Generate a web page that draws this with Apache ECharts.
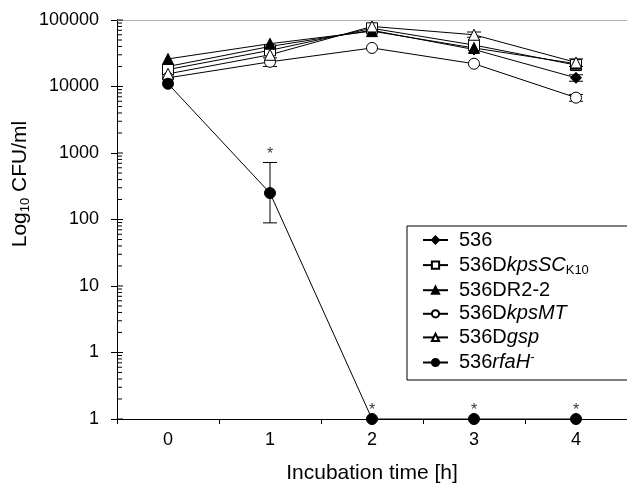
<!DOCTYPE html>
<html>
<head>
<meta charset="utf-8">
<script src="https://cdn.jsdelivr.net/npm/echarts@6/dist/echarts.min.js"></script>
<style>html,body{margin:0;padding:0;background:#fff}#c{width:627px;height:489px}</style>
</head>
<body>
<div id="c"></div>
<script>
// ---- data ----
var times = ['0', '1', '2', '3', '4'];
var s536   = [20000, 40000, 70000, 36000, 13500];
var sKpsSC = [18000, 35000, 75000, 42000, 21000];
var sDR22  = [26000, 44000, 68000, 38000, 22000];
var sKpsMT = [13500, 23500, 38000, 22000, 6800];
var sGsp   = [15500, 30000, 80000, 60000, 23000];
var sRfaH  = [11000, 250, 0.1, 0.1, 0.1];
// error bars: [timeIndex, low, high]
var errRfaH  = [[1, 89, 720]];
var errKpsMT = [[1, 20000, 27000], [4, 6000, 7600]];
var err536   = [[4, 12000, 15000]];
var errGsp   = [[3, 55000, 66000], [4, 20000, 26000]];
// significance stars: [timeIndex, value]
var stars = [[1, 720], [2, 0.1], [3, 0.1], [4, 0.1]];
// y ticks
var tickValues = [0.1, 1, 10, 100, 1000, 10000, 100000];
var tickLabels = ['1', '1', '10', '100', '1000', '10000', '100000'];
var minorMultipliers = [2, 3, 4, 5, 6, 7, 8, 9];
var decadeStarts = [0.1, 1, 10, 100, 1000, 10000];

var FONT = 'Liberation Sans, Arial, sans-serif';

var minorTicks = [];
decadeStarts.forEach(function (d) {
  minorTicks.push([0, d, 1]);
  minorMultipliers.forEach(function (m) { minorTicks.push([0, d * m, 0]); });
});
minorTicks.push([0, 100000, 1]);

function errItem(params, api) {
  var x = api.value(0), lo = api.value(1), hi = api.value(2);
  var p1 = api.coord([x, lo]), p2 = api.coord([x, hi]);
  var w = 7;
  var st = {stroke: '#000', lineWidth: 1};
  return {type: 'group', children: [
    {type: 'line', shape: {x1: p1[0], y1: p1[1], x2: p2[0], y2: p2[1]}, style: st},
    {type: 'line', shape: {x1: p1[0] - w, y1: p1[1], x2: p1[0] + w, y2: p1[1]}, style: st},
    {type: 'line', shape: {x1: p2[0] - w, y1: p2[1], x2: p2[0] + w, y2: p2[1]}, style: st}
  ]};
}

function lineSeries(name, data, symbol, filled) {
  return {
    name: name, type: 'line', data: data, symbol: symbol, symbolSize: 11,
    clip: false, z: 5,
    lineStyle: {color: '#000', width: 1},
    itemStyle: {color: filled ? '#000' : '#fff', borderColor: '#000', borderWidth: 1},
    emphasis: {disabled: true}
  };
}
function errSeries(data) {
  return {type: 'custom', data: data, renderItem: errItem, z: 4, silent: true};
}

var nameMap = {
  '536': '{n|536}',
  '536DkpsSC': '{n|536D}{i|kpsSC}{s|K10}',
  '536DR2-2': '{n|536DR2-2}',
  '536DkpsMT': '{n|536D}{i|kpsMT}',
  '536Dgsp': '{n|536D}{i|gsp}',
  '536rfaH': '{n|536}{i|rfaH}{u|-}'
};

var chart = echarts.init(document.getElementById('c'), null, {renderer: 'canvas'});
chart.setOption({
  animation: false,
  backgroundColor: '#fff',
  grid: {left: 117, right: -10, top: 20, bottom: 68, containLabel: false},
  xAxis: [{
    type: 'category', data: times, boundaryGap: true,
    axisLine: {lineStyle: {color: '#000', width: 1}},
    axisTick: {show: true, inside: false, length: 5, lineStyle: {color: '#000'}},
    axisLabel: {color: '#000', fontSize: 18, fontFamily: FONT, margin: 12},
    name: 'Incubation time [h]', nameLocation: 'middle', nameGap: 44,
    nameTextStyle: {color: '#000', fontSize: 21, fontFamily: FONT},
    splitLine: {show: false}
  }, {
    type: 'category', data: times, position: 'top',
    axisLine: {lineStyle: {color: '#b0b0b0', width: 1}},
    axisTick: {show: false}, axisLabel: {show: false}, splitLine: {show: false}
  }],
  yAxis: {
    type: 'log', logBase: 10, min: 0.1, max: 100000, interval: 1,
    axisLine: {show: true, lineStyle: {color: '#000', width: 1}},
    axisTick: {show: true, inside: false, length: 6, lineStyle: {color: '#000'}},
    axisLabel: {color: '#000', fontSize: 18, fontFamily: FONT, margin: 18,
      formatter: function (v) {
        for (var i = 0; i < tickValues.length; i++) {
          if (Math.abs(Math.log10(tickValues[i]) - Math.log10(v)) < 1e-6) return tickLabels[i];
        }
        return '';
      }},
    splitLine: {show: false}
  },
  legend: {
    orient: 'vertical', left: 407, top: 226,
    data: ['536', '536DkpsSC', '536DR2-2', '536DkpsMT', '536Dgsp', '536rfaH'],
    itemWidth: 25, itemHeight: 9, itemGap: 3.6,
    padding: [4, 40, 6, 15],
    borderColor: '#000', borderWidth: 1, backgroundColor: '#fff',
    formatter: function (n) { return nameMap[n]; },
    textStyle: {
      color: '#000', fontSize: 20, fontFamily: FONT, lineHeight: 20, padding: [0, 0, 0, 6],
      rich: {
        n: {fontSize: 20, fontFamily: FONT, color: '#000', lineHeight: 20},
        i: {fontSize: 20, fontFamily: FONT, fontStyle: 'italic', color: '#000', lineHeight: 20},
        s: {fontSize: 13, fontFamily: FONT, color: '#000', lineHeight: 20, padding: [10, 0, 0, 0]},
        u: {fontSize: 13, fontFamily: FONT, color: '#000', lineHeight: 20, padding: [0, 0, 10, 0]}
      }
    }
  },
  graphic: [{
    type: 'text', x: 20, y: 184, rotation: Math.PI / 2, z: 10,
    style: {
      text: '{a|Log}{b|10}{a| CFU/ml}',
      align: 'center', verticalAlign: 'middle',
      rich: {
        a: {fontSize: 21, fontFamily: FONT, fill: '#000', lineHeight: 24},
        b: {fontSize: 13, fontFamily: FONT, fill: '#000', lineHeight: 24, padding: [10, 0, 0, 0]}
      }
    }
  }],
  series: [
    {type: 'custom', data: minorTicks, silent: true, z: 3,
      renderItem: function (params, api) {
        var p = api.coord([0, api.value(1)]);
        var x0 = params.coordSys.x;
        var len = api.value(2) ? 6 : 5;
        return {type: 'line', shape: {x1: x0, y1: p[1], x2: x0 + len, y2: p[1]},
          style: {stroke: '#000', lineWidth: 1}};
      }},
    lineSeries('536', s536, 'diamond', true),
    lineSeries('536DkpsSC', sKpsSC, 'rect', false),
    lineSeries('536DR2-2', sDR22, 'triangle', true),
    lineSeries('536DkpsMT', sKpsMT, 'circle', false),
    lineSeries('536Dgsp', sGsp, 'triangle', false),
    lineSeries('536rfaH', sRfaH, 'circle', true),
    errSeries(errRfaH), errSeries(errKpsMT), errSeries(err536), errSeries(errGsp),
    {type: 'scatter', data: stars, symbolSize: 0, silent: true, z: 6,
      label: {show: true, position: 'top', distance: 0, formatter: '*',
        color: '#000', fontSize: 16, fontFamily: FONT}}
  ]
});
</script>
</body>
</html>
